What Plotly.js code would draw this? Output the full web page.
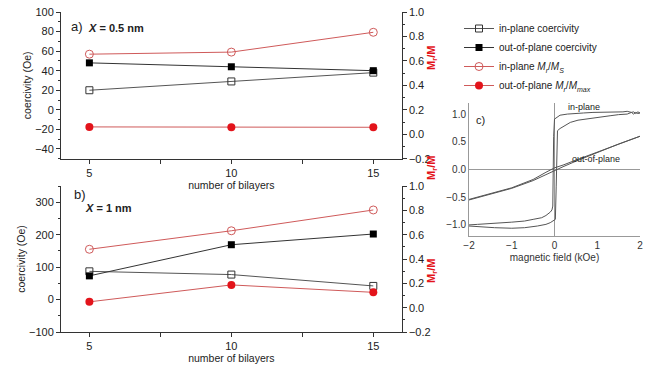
<!DOCTYPE html>
<html>
<head>
<meta charset="utf-8">
<script src="https://cdn.plot.ly/plotly-3.0.1.min.js"></script>
<style>html,body{margin:0;padding:0;background:#fff;}#chart{width:652px;height:371px;}</style>
</head>
<body>
<div id="chart"></div>
<script>
// ---- data ----
const bilayers = [5, 10, 15];

// panel a) X = 0.5 nm
const a_inCoerc = [20, 29, 38];          // Oe
const a_outCoerc = [48, 44, 40];         // Oe
const a_inMrMs = [0.655, 0.672, 0.834];  // Mr/Ms
const a_outMrMmax = [0.06, 0.058, 0.057];

// panel b) X = 1 nm
const b_inCoerc = [87, 77, 42];
const b_outCoerc = [73, 169, 202];
const b_inMrMs = [0.48, 0.632, 0.803];
const b_outMrMmax = [0.048, 0.187, 0.126];

// panel c) hysteresis loops (field kOe, M/Mmax)
const ipDownH = [2.0, 1.95, 1.9, 1.85, 1.8, 1.7, 1.6, 1.46, 1.2, 0.9, 0.68, 0.45, 0.3, 0.13, 0.05, 0.0, -0.02, -0.03, -0.04, -0.06, -0.1, -0.2, -0.3, -0.5, -0.7, -1.0, -1.3, -1.6, -1.8, -2.0];
const ipDownM = [1.02, 1.04, 1.01, 1.04, 1.03, 1.05, 1.04, 1.04, 1.03, 1.03, 1.02, 1.01, 1.0, 0.98, 0.94, 0.91, 0.6, -0.2, -0.66, -0.73, -0.77, -0.83, -0.87, -0.9, -0.93, -0.95, -0.96, -0.98, -0.99, -1.0];
const ipUpH = [-2.0, -1.7, -1.4, -1.0, -0.7, -0.4, -0.2, -0.1, -0.03, 0.02, 0.04, 0.05, 0.07, 0.13, 0.25, 0.37, 0.55, 0.8, 1.07, 1.3, 1.5, 1.7, 1.8, 1.85, 1.9, 1.95, 2.0];
const ipUpM = [-1.02, -1.04, -1.05, -1.06, -1.05, -1.02, -0.99, -0.96, -0.93, -0.9, -0.3, 0.4, 0.7, 0.74, 0.8, 0.85, 0.89, 0.92, 0.94, 0.97, 0.99, 1.0, 1.03, 1.0, 1.03, 1.01, 1.02];
const opDownH = [2.0, 1.5, 1.0, 0.5, 0.2, 0.0, -0.2, -0.5, -1.0, -1.5, -2.0];
const opDownM = [0.6, 0.46, 0.32, 0.17, 0.08, 0.03, -0.05, -0.18, -0.33, -0.44, -0.54];
const opUpH = [-2.0, -1.5, -1.0, -0.5, -0.2, 0.0, 0.2, 0.5, 1.0, 1.5, 2.0];
const opUpM = [-0.55, -0.45, -0.34, -0.2, -0.09, -0.02, 0.05, 0.15, 0.31, 0.46, 0.6];

const seriesNames = ['in-plane coercivity', 'out-of-plane coercivity',
  'in-plane <i>M<sub>r</sub></i>/<i>M<sub>S</sub></i>', 'out-of-plane <i>M<sub>r</sub></i>/<i>M<sub>max</sub></i>'];

// ---- styles ----
const FONT = 'Liberation Sans, Arial, sans-serif';
const RED = '#e3141b';
const LRED = '#cf5a5a';
const AX = '#333333';

function tr(x, y, xa, ya, name, style, show) {
  return Object.assign({x: x, y: y, xaxis: xa, yaxis: ya, name: name, type: 'scatter', mode: 'lines+markers',
    showlegend: show, legendgroup: name, cliponaxis: false}, style);
}
const sInC = {line: {color: '#555', width: 1}, marker: {symbol: 'square-open', size: 7, color: '#333', line: {width: 1}}};
const sOutC = {line: {color: '#333', width: 1}, marker: {symbol: 'square', size: 7, color: '#000'}};
const sInM = {line: {color: LRED, width: 1}, marker: {symbol: 'circle-open', size: 8, color: LRED, line: {width: 1}}};
const sOutM = {line: {color: LRED, width: 1}, marker: {symbol: 'circle', size: 8, color: RED}};

const loopStyle = {mode: 'lines', line: {color: '#555', width: 1}, showlegend: false, hoverinfo: 'skip'};

const data = [
  tr(bilayers, a_inCoerc, 'x', 'y', seriesNames[0], sInC, true),
  tr(bilayers, a_outCoerc, 'x', 'y', seriesNames[1], sOutC, true),
  tr(bilayers, a_inMrMs, 'x', 'y2', seriesNames[2], sInM, true),
  tr(bilayers, a_outMrMmax, 'x', 'y2', seriesNames[3], sOutM, true),
  tr(bilayers, b_inCoerc, 'x2', 'y3', seriesNames[0], sInC, false),
  tr(bilayers, b_outCoerc, 'x2', 'y3', seriesNames[1], sOutC, false),
  tr(bilayers, b_inMrMs, 'x2', 'y4', seriesNames[2], sInM, false),
  tr(bilayers, b_outMrMmax, 'x2', 'y4', seriesNames[3], sOutM, false),
  Object.assign({x: ipDownH, y: ipDownM, xaxis: 'x3', yaxis: 'y5', type: 'scatter'}, loopStyle),
  Object.assign({x: ipUpH, y: ipUpM, xaxis: 'x3', yaxis: 'y5', type: 'scatter'}, loopStyle),
  Object.assign({x: opDownH, y: opDownM, xaxis: 'x3', yaxis: 'y5', type: 'scatter'}, loopStyle),
  Object.assign({x: opUpH, y: opUpM, xaxis: 'x3', yaxis: 'y5', type: 'scatter'}, loopStyle)
];

const W = 652, H = 371;
const px = v => v / W;
const py = v => 1 - v / H;

function xAx(anchor) {
  return {domain: [px(61), px(401.7)], anchor: anchor, range: [4, 16], tick0: 0, dtick: 5,
    ticks: 'outside', ticklen: 4, tickcolor: AX, showline: true, linecolor: AX, linewidth: 1,
    showgrid: false, zeroline: false, tickfont: {size: 11, color: '#222'},
    minor: {dtick: 2.5, tick0: 0, ticks: 'outside', ticklen: 4, tickcolor: AX, showgrid: false},
    title: {text: 'number of bilayers', font: {size: 10.5, color: '#222'}, standoff: 1}};
}
function yLeft(anchor, dom, range, dtick, mdt) {
  return {domain: dom, anchor: anchor, range: range, tick0: 0, dtick: dtick, ticks: 'outside', ticklen: 4,
    tickcolor: AX, showline: true, linecolor: AX, linewidth: 1, showgrid: false, zeroline: false,
    tickfont: {size: 11, color: '#222'},
    minor: {dtick: mdt, tick0: 0, ticks: 'outside', ticklen: 2, tickcolor: AX, showgrid: false},
    title: {text: 'coercivity (Oe)', font: {size: 10.5, color: '#222'}, standoff: 1}};
}
function yRight(anchor, over) {
  return {overlaying: over, anchor: anchor, side: 'right', range: [-0.2, 1.0], tick0: 0, dtick: 0.2,
    tickformat: '.1f', ticks: 'outside', ticklen: 4, tickcolor: AX, showline: true, linecolor: AX,
    linewidth: 1, showgrid: false, zeroline: false, tickfont: {size: 11, color: '#222'},
    minor: {dtick: 0.1, tick0: 0, ticks: 'outside', ticklen: 2, tickcolor: AX, showgrid: false}};
}

const domA = [py(158.7), py(12)];
const domB = [py(332), py(186)];

const layout = {
  width: W, height: H,
  margin: {l: 0, r: 0, t: 0, b: 0},
  paper_bgcolor: '#fff', plot_bgcolor: 'rgba(0,0,0,0)',
  font: {family: FONT, color: '#222'},
  xaxis: xAx('y'),
  yaxis: yLeft('x', domA, [-50, 100], 20, 10),
  yaxis2: yRight('x', 'y'),
  xaxis2: xAx('y3'),
  yaxis3: yLeft('x2', domB, [-100, 350], 100, 50),
  yaxis4: yRight('x2', 'y3'),
  xaxis3: {domain: [px(469), px(640)], anchor: 'y5', range: [-2, 2], dtick: 1, ticks: '',
    showline: true, linecolor: '#999', linewidth: 1, showgrid: false, zeroline: true,
    zerolinecolor: '#999', zerolinewidth: 1, tickfont: {size: 10, color: '#333'},
    title: {text: 'magnetic field (kOe)', font: {size: 10, color: '#333'}, standoff: 3}},
  yaxis5: {domain: [py(236), py(103)], anchor: 'x3', range: [-1.2, 1.2], dtick: 0.5, tickformat: '.1f',
    ticks: '', showline: true, linecolor: '#999', linewidth: 1, showgrid: false, zeroline: true,
    zerolinecolor: '#999', zerolinewidth: 1, tickfont: {size: 10, color: '#333'}},
  showlegend: true,
  legend: {x: px(459), y: py(14), xanchor: 'left', yanchor: 'top', bgcolor: 'rgba(0,0,0,0)',
    font: {size: 10, color: '#222'}, itemwidth: 30, tracegroupgap: 0},
  annotations: [
    {text: 'a)', x: px(69), y: py(26), xref: 'paper', yref: 'paper', xanchor: 'left', yanchor: 'middle',
      showarrow: false, font: {size: 13, color: '#222'}},
    {text: '<b><i>X</i> = 0.5 nm</b>', x: px(86), y: py(28), xref: 'paper', yref: 'paper', xanchor: 'left',
      yanchor: 'middle', showarrow: false, font: {size: 11, color: '#222'}},
    {text: 'b)', x: px(72), y: py(194), xref: 'paper', yref: 'paper', xanchor: 'left', yanchor: 'middle',
      showarrow: false, font: {size: 13, color: '#222'}},
    {text: '<b><i>X</i> = 1 nm</b>', x: px(83), y: py(208), xref: 'paper', yref: 'paper', xanchor: 'left',
      yanchor: 'middle', showarrow: false, font: {size: 11, color: '#222'}},
    {text: '<b>M<sub>r</sub>/M</b>', x: px(432), y: py(44), xref: 'paper', yref: 'paper', textangle: -90,
      showarrow: false, font: {size: 11, color: RED}},
    {text: '<b>M<sub>r</sub>/M</b>', x: px(432), y: py(285), xref: 'paper', yref: 'paper', textangle: -90,
      showarrow: false, font: {size: 11, color: RED}},
    {text: '<b>M<sub>r</sub>/M</b>', x: px(441), y: py(168), xref: 'paper', yref: 'paper', textangle: -90,
      showarrow: false, font: {size: 11, color: RED}},
    {text: 'c)', x: px(487), y: py(112), xref: 'paper', yref: 'paper', showarrow: false,
      font: {size: 11, color: '#222'}},
    {text: 'in-plane', x: px(602), y: py(100), xref: 'paper', yref: 'paper', showarrow: false,
      font: {size: 9, color: '#222'}},
    {text: 'out-of-plane', x: px(622), y: py(159), xref: 'paper', yref: 'paper', showarrow: false,
      font: {size: 9, color: '#222'}}
  ]
};

Plotly.newPlot('chart', data, layout, {displayModeBar: false, staticPlot: true});
</script>
</body>
</html>
